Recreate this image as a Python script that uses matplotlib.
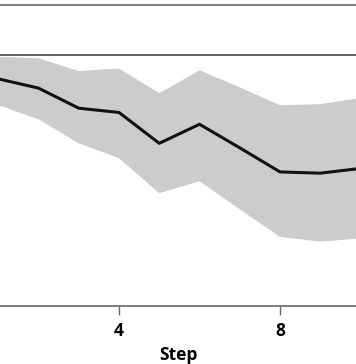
import matplotlib
matplotlib.use("Agg")
import matplotlib.pyplot as plt

# values (y in arbitrary units, 1.0 = reference line)
steps = [1, 2, 3, 4, 5, 6, 7, 8, 9, 10]
mean = [0.906, 0.869, 0.789, 0.772, 0.649, 0.725, 0.631, 0.535, 0.530, 0.549]
upper = [0.994, 0.988, 0.937, 0.947, 0.849, 0.940, 0.872, 0.801, 0.805, 0.830]
lower = [0.801, 0.745, 0.649, 0.590, 0.450, 0.498, 0.386, 0.276, 0.257, 0.270]
xticks = [4, 8]

plt.rcParams['font.family'] = ['Open Sans', 'DejaVu Sans']

fig = plt.figure(figsize=(3.56, 3.64), dpi=100)
ax = fig.add_axes([0, 0.159, 1, 0.827])

ax.fill_between(steps, lower, upper, color='#cbcccd', linewidth=0, zorder=1)
ax.plot(steps, mean, color='#111111', linewidth=2.2, zorder=3)
ax.axhline(1.0, color='#555555', linewidth=1.3, zorder=2)

ax.set_xticks(xticks)
ax.set_xticklabels([str(t) for t in xticks], fontsize=12.5, fontweight='bold')
ax.tick_params(axis='x', length=6.5, width=1, color='#666666', pad=5)
ax.set_yticks([])
ax.set_xlabel('Step', fontsize=12.5, fontweight='bold', labelpad=4)

ax.set_xlim(1.043, 9.888)
ax.set_ylim(0, 1.2)

for s in ['left', 'right']:
    ax.spines[s].set_visible(False)
for s in ['top', 'bottom']:
    ax.spines[s].set_color('#666666')
    ax.spines[s].set_linewidth(1.2)

fig.savefig('out.png', dpi=100)
